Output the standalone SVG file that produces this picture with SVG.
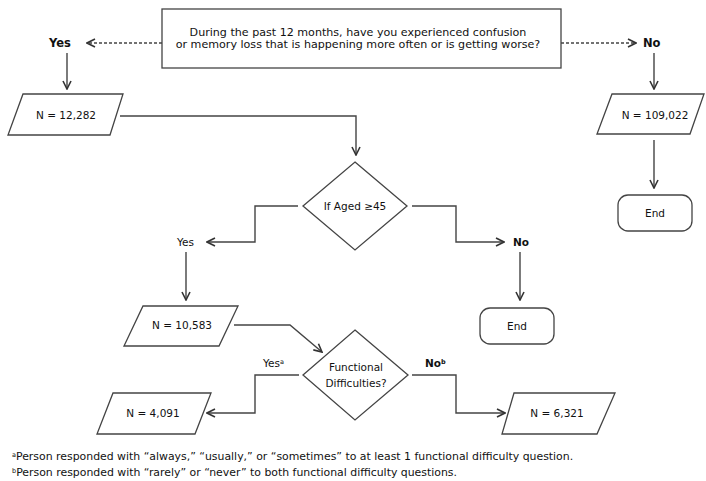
<svg xmlns="http://www.w3.org/2000/svg" width="706" height="481" viewBox="0 0 706 481">
<defs>
<marker id="arr" viewBox="0 0 10 10" refX="9" refY="5" markerWidth="10" markerHeight="10" markerUnits="userSpaceOnUse" orient="auto">
<path d="M1,1 L9,5 L1,9" fill="none" stroke="#333" stroke-width="1.6"/>
</marker>
<style>
.shape{fill:#fff;stroke:#444;stroke-width:1.3}
.line{fill:none;stroke:#444;stroke-width:1.4}
.dash{fill:none;stroke:#444;stroke-width:1.3;stroke-dasharray:3,2}
text{font-family:"DejaVu Sans",Verdana,sans-serif;font-size:10.5px;fill:#111}
.c{text-anchor:middle}
.b{font-weight:bold}
.q{font-size:11.1px}
.tl{font-size:11.5px}
.sup{font-size:6.5px}
.fn{font-size:10.9px}
</style>
</defs>
<rect width="706" height="481" fill="#fff"/>
<g id="connectors">
<path class="dash" d="M162,43 H87" marker-end="url(#arr)"/>
<path class="dash" d="M561,43 H636" marker-end="url(#arr)"/>
<path class="line" d="M67,53 V89" marker-end="url(#arr)"/>
<path class="line" d="M654,53 V89" marker-end="url(#arr)"/>
<path class="line" d="M120,116 H356 V155" marker-end="url(#arr)"/>
<path class="line" d="M654,140 V188" marker-end="url(#arr)"/>
<path class="line" d="M298,206 H255 V242 H207" marker-end="url(#arr)"/>
<path class="line" d="M412,206 H456 V242 H504" marker-end="url(#arr)"/>
<path class="line" d="M186,252 V300" marker-end="url(#arr)"/>
<path class="line" d="M520,252 V300" marker-end="url(#arr)"/>
<path class="line" d="M234,325 H290 L322,352" marker-end="url(#arr)"/>
<path class="line" d="M299,375 H255 V413 H207" marker-end="url(#arr)"/>
<path class="line" d="M412,375 H456 V413 H505" marker-end="url(#arr)"/>
</g>
<g id="question">
<rect class="shape" x="162" y="9" width="399" height="59"/>
<text class="c q" x="358" y="36">During the past 12 months, have you experienced confusion</text>
<text class="c q" x="358" y="48">or memory loss that is happening more often or is getting worse?</text>
</g>
<g id="yes1"><text class="b tl" x="49" y="47">Yes</text></g>
<g id="no1"><text class="b tl" x="643" y="47">No</text></g>
<g id="n12282">
<polygon class="shape" points="23,94 123,94 110,135 8,135"/>
<text class="c" x="66" y="119">N = 12,282</text>
</g>
<g id="n109022">
<polygon class="shape" points="612,94 704,94 690,134 597,134"/>
<text class="c" x="655" y="119">N = 109,022</text>
</g>
<g id="end1">
<rect class="shape" x="618" y="195" width="74" height="36" rx="10"/>
<text class="c" x="655" y="217">End</text>
</g>
<g id="aged">
<polygon class="shape" points="355,162 407,206 355,250 303,206"/>
<text class="c" x="355" y="210">If Aged ≥45</text>
</g>
<g id="yes2"><text x="177" y="246">Yes</text></g>
<g id="no2"><text class="b" x="513" y="246">No</text></g>
<g id="end2">
<rect class="shape" x="480" y="308" width="74" height="36" rx="10"/>
<text class="c" x="517" y="330">End</text>
</g>
<g id="n10583">
<polygon class="shape" points="143,306 238,306 219,346 124,346"/>
<text class="c" x="182" y="329">N = 10,583</text>
</g>
<g id="functional">
<polygon class="shape" points="355,330 408,375 355,420 303,375"/>
<text class="c" x="356" y="371">Functional</text>
<text class="c" x="356" y="387">Difficulties?</text>
</g>
<g id="yes3"><text x="263" y="367">Yes<tspan class="sup" dy="-3.5">a</tspan></text></g>
<g id="no3"><text class="b" x="425" y="367">No<tspan class="sup" dy="-3.5">b</tspan></text></g>
<g id="n4091">
<polygon class="shape" points="113,393 211,393 195,434 97,434"/>
<text class="c" x="153" y="417">N = 4,091</text>
</g>
<g id="n6321">
<polygon class="shape" points="514,393 615,393 597,434 502,434"/>
<text class="c" x="557" y="417">N = 6,321</text>
</g>
<g id="footnotes">
<text class="fn" x="12" y="460"><tspan class="sup" dy="-3">a</tspan><tspan dy="3">Person responded with “always,” “usually,” or “sometimes” to at least 1 functional difficulty question.</tspan></text>
<text class="fn" x="12" y="476"><tspan class="sup" dy="-3">b</tspan><tspan dy="3">Person responded with “rarely” or “never” to both functional difficulty questions.</tspan></text>
</g>
</svg>
